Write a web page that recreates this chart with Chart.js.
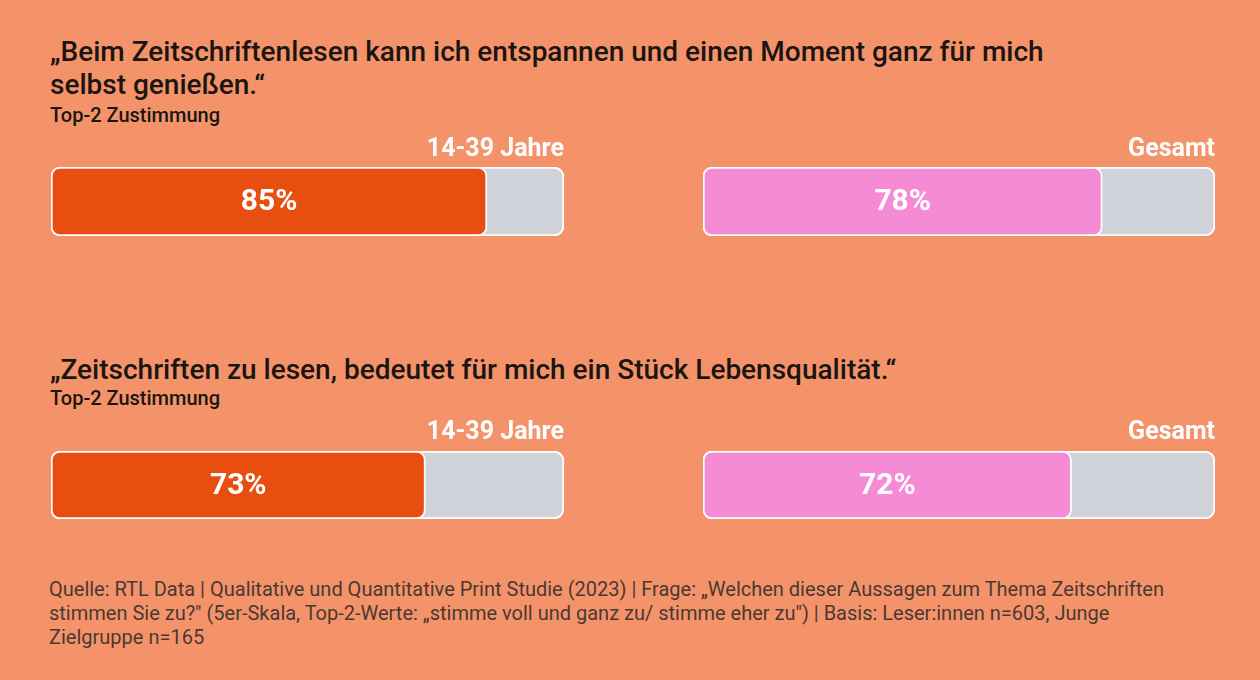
<!DOCTYPE html>
<html lang="de">
<head>
<meta charset="utf-8">
<script src="https://cdn.jsdelivr.net/npm/chart.js@4"></script>
<style>
    html, body { margin: 0; padding: 0; }
    body {
        width: 1260px; height: 680px; overflow: hidden; position: relative;
        background: #F4936A; font-family: Roboto, 'Noto Sans', sans-serif;
    }
    .title { position: absolute; left: 50px; color: #1b1512; font-size: 28px; font-weight: 500; line-height: 33px; }
    .sub { position: absolute; left: 50px; color: #1b1512; font-size: 20px; font-weight: 500; line-height: 22px; }
    .box { position: absolute; }
    .note { position: absolute; left: 49px; top: 577px; color: #4a3933; font-size: 20px; line-height: 24px; }
</style>
</head>
<body>
<div class="title" style="top:35px">„Beim Zeitschriftenlesen kann ich entspannen und einen Moment ganz für mich<br>selbst genießen.“</div>
<div class="sub" style="top:104px">Top-2 Zustimmung</div>
<div class="title" style="top:353px">„Zeitschriften zu lesen, bedeutet für mich ein Stück Lebensqualität.“</div>
<div class="sub" style="top:387px">Top-2 Zustimmung</div>

<div class="box" style="left:51px;top:135px;width:513px;height:101px"><canvas id="c0"></canvas></div>
<div class="box" style="left:703px;top:135px;width:512px;height:101px"><canvas id="c1"></canvas></div>
<div class="box" style="left:51px;top:418px;width:513px;height:101px"><canvas id="c2"></canvas></div>
<div class="box" style="left:703px;top:418px;width:512px;height:101px"><canvas id="c3"></canvas></div>

<div class="note">Quelle: RTL Data | Qualitative und Quantitative Print Studie (2023) | Frage: „Welchen dieser Aussagen zum Thema Zeitschriften<br>stimmen Sie zu?" (5er-Skala, Top-2-Werte: „stimme voll und ganz zu/ stimme eher zu") | Basis: Leser:innen n=603, Junge<br>Zielgruppe n=165</div>

<script>
// Werte je Aussage: [14-39 Jahre, Gesamt]
const groups = ['14-39 Jahre', 'Gesamt'];
const statement1 = [85, 78];
const statement2 = [73, 72];
const groupColors = ['#E84E0F', '#F58AD5'];
const restColor = '#CFD3D9';

// Draw the percentage label centred on the coloured bar
const valueLabel = {
    id: 'valueLabel',
    afterDatasetsDraw(chart) {
        const ctx = chart.ctx;
        const bar = chart.getDatasetMeta(1).data[0];
        const value = chart.data.datasets[1].data[0];
        ctx.save();
        ctx.fillStyle = '#ffffff';
        ctx.font = 'bold 30px Roboto, sans-serif';
        ctx.textAlign = 'center';
        ctx.textBaseline = 'middle';
        ctx.fillText(value + '%', (bar.base + bar.x) / 2, bar.y + 1);
        ctx.restore();
    }
};

function drawBar(id, label, value, color, gap) {
    const ctx = document.getElementById(id);
    return new Chart(ctx, {
        type: 'bar',
        data: {
            labels: [label],
            datasets: [
                {
                    // full 100% track behind the value
                    data: [100],
                    backgroundColor: restColor,
                    borderColor: '#ffffff',
                    borderWidth: 2,
                    borderRadius: 10,
                    borderSkipped: false,
                    grouped: false,
                    order: 2
                },
                {
                    data: [value],
                    backgroundColor: color,
                    borderColor: 'rgba(255,255,255,0.9)',
                    borderWidth: 2,
                    borderRadius: 9,
                    borderSkipped: false,
                    grouped: false,
                    order: 1
                }
            ]
        },
        options: {
            indexAxis: 'y',
            responsive: true,
            maintainAspectRatio: false,
            animation: false,
            layout: { padding: 0 },
            datasets: { bar: { barPercentage: 1, categoryPercentage: 1 } },
            scales: {
                x: { display: false, min: 0, max: 100 },
                y: { display: false }
            },
            plugins: {
                legend: { display: false },
                tooltip: { enabled: false },
                title: {
                    display: true,
                    text: label,
                    align: 'end',
                    color: '#ffffff',
                    font: { family: 'Roboto', size: 25, weight: 'bold' },
                    padding: { top: 0, bottom: gap }
                }
            }
        },
        plugins: [valueLabel]
    });
}

drawBar('c0', groups[0], statement1[0], groupColors[0], 2);
drawBar('c1', groups[1], statement1[1], groupColors[1], 2);
drawBar('c2', groups[0], statement2[0], groupColors[0], 3);
drawBar('c3', groups[1], statement2[1], groupColors[1], 3);
</script>
</body>
</html>
